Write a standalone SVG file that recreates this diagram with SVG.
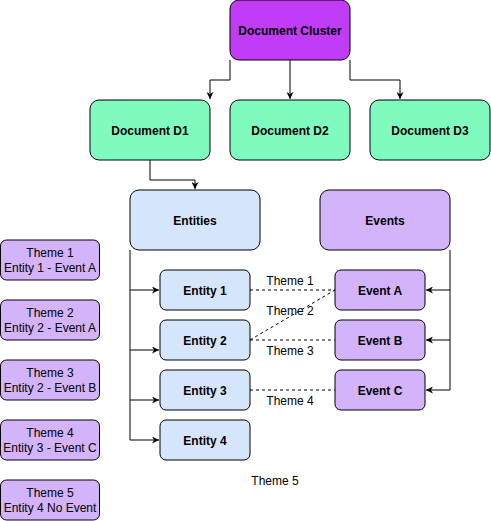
<svg xmlns="http://www.w3.org/2000/svg" width="491" height="521" viewBox="0 0 491 521">
<defs>
<style>
.n{stroke:#000;stroke-width:1}
.b{font-family:"Liberation Sans",Arial,sans-serif;font-size:12px;font-weight:bold;fill:#000;text-anchor:middle}
.t{font-family:"Liberation Sans",Arial,sans-serif;font-size:12px;fill:#000;text-anchor:middle}
.c{fill:none;stroke:#000;stroke-width:1}
.d{fill:none;stroke:#000;stroke-width:1;stroke-dasharray:3,3}
.cl{fill:#c03cf7}
.g{fill:#80fbc0}
.bl{fill:#d4e5fc}
.p{fill:#d3b3fa}
</style>
<marker id="a" viewBox="0 0 10 10" refX="10" refY="5" markerWidth="7" markerHeight="7" orient="auto" markerUnits="userSpaceOnUse">
<path d="M0,0 L10,5 L0,10 L3,5 Z" fill="#000"/>
</marker>
</defs>
<rect width="491" height="521" fill="#fff"/>
<g id="connectors">
<path class="c" d="M230,60 V80 H210 V99" marker-end="url(#a)"/>
<path class="c" d="M290,60 V99" marker-end="url(#a)"/>
<path class="c" d="M350,60 V80 H400 V99" marker-end="url(#a)"/>
<path class="c" d="M150,160 V180 H195 V189" marker-end="url(#a)"/>
<path class="c" d="M130,250 V440"/>
<path class="c" d="M130,290 H159" marker-end="url(#a)"/>
<path class="c" d="M130,350 H159" marker-end="url(#a)"/>
<path class="c" d="M130,400 H159" marker-end="url(#a)"/>
<path class="c" d="M130,440 H159" marker-end="url(#a)"/>
<path class="c" d="M450,250 V390"/>
<path class="c" d="M450,290 H426" marker-end="url(#a)"/>
<path class="c" d="M450,340 H426" marker-end="url(#a)"/>
<path class="c" d="M450,390 H426" marker-end="url(#a)"/>
<path class="d" d="M250,290 H335"/>
<path class="d" d="M250,340 L335,290"/>
<path class="d" d="M250,340 H335"/>
<path class="d" d="M250,390 H335"/>
<text class="t" x="290" y="285">Theme 1</text>
<text class="t" x="290" y="315">Theme 2</text>
<text class="t" x="290" y="355">Theme 3</text>
<text class="t" x="290" y="405">Theme 4</text>
<text class="t" x="275" y="485">Theme 5</text>
</g>
<g id="cluster"><rect class="n cl" x="230" y="0" width="120" height="60" rx="9"/><text class="b" x="290" y="35">Document Cluster</text></g>
<g id="d1"><rect class="n g" x="90" y="100" width="120" height="60" rx="9"/><text class="b" x="150" y="135">Document D1</text></g>
<g id="d2"><rect class="n g" x="230" y="100" width="120" height="60" rx="9"/><text class="b" x="290" y="135">Document D2</text></g>
<g id="d3"><rect class="n g" x="370" y="100" width="120" height="60" rx="9"/><text class="b" x="430" y="135">Document D3</text></g>
<g id="entities"><rect class="n bl" x="130" y="190" width="130" height="60" rx="9"/><text class="b" x="195" y="225">Entities</text></g>
<g id="events"><rect class="n p" x="320" y="190" width="130" height="60" rx="9"/><text class="b" x="385" y="225">Events</text></g>
<g id="entity1"><rect class="n bl" x="160" y="270" width="90" height="40" rx="6"/><text class="b" x="205" y="295">Entity 1</text></g>
<g id="entity2"><rect class="n bl" x="160" y="320" width="90" height="40" rx="6"/><text class="b" x="205" y="345">Entity 2</text></g>
<g id="entity3"><rect class="n bl" x="160" y="370" width="90" height="40" rx="6"/><text class="b" x="205" y="395">Entity 3</text></g>
<g id="entity4"><rect class="n bl" x="160" y="420" width="90" height="40" rx="6"/><text class="b" x="205" y="445">Entity 4</text></g>
<g id="eventA"><rect class="n p" x="335" y="270" width="90" height="40" rx="6"/><text class="b" x="380" y="295">Event A</text></g>
<g id="eventB"><rect class="n p" x="335" y="320" width="90" height="40" rx="6"/><text class="b" x="380" y="345">Event B</text></g>
<g id="eventC"><rect class="n p" x="335" y="370" width="90" height="40" rx="6"/><text class="b" x="380" y="395">Event C</text></g>
<g id="theme1"><rect class="n p" x="0.5" y="240" width="99" height="40" rx="6"/><text class="t" x="50" y="257">Theme 1</text><text class="t" x="50" y="272">Entity 1 - Event A</text></g>
<g id="theme2"><rect class="n p" x="0.5" y="300" width="99" height="40" rx="6"/><text class="t" x="50" y="317">Theme 2</text><text class="t" x="50" y="332">Entity 2 - Event A</text></g>
<g id="theme3"><rect class="n p" x="0.5" y="360" width="99" height="40" rx="6"/><text class="t" x="50" y="377">Theme 3</text><text class="t" x="50" y="392">Entity 2 - Event B</text></g>
<g id="theme4"><rect class="n p" x="0.5" y="420" width="99" height="40" rx="6"/><text class="t" x="50" y="437">Theme 4</text><text class="t" x="50" y="452">Entity 3 - Event C</text></g>
<g id="theme5"><rect class="n p" x="0.5" y="480" width="99" height="40" rx="6"/><text class="t" x="50" y="497">Theme 5</text><text class="t" x="50" y="512">Entity 4 No Event</text></g>
</svg>
